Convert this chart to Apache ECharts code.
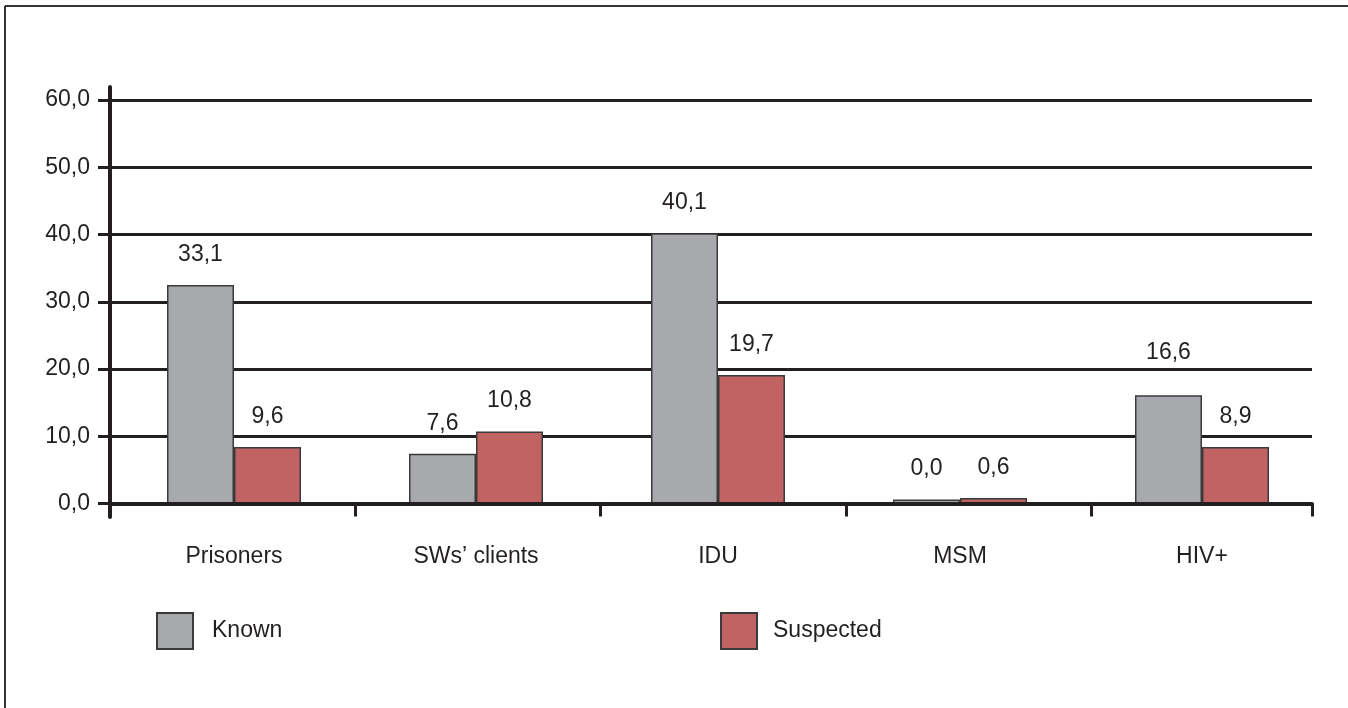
<!DOCTYPE html>
<html>
<head>
<meta charset="utf-8">
<script src="https://cdn.jsdelivr.net/npm/echarts@6/dist/echarts.min.js"></script>
<style>
  html, body { margin: 0; padding: 0; background: #fff; }
  #barChart { width: 1348px; height: 708px; }
</style>
</head>
<body>
<div id="barChart"></div>
<script>
// categories and values
var categories = ["Prisoners", "SWs\u2019 clients", "IDU", "MSM", "HIV+"];
// bar heights as drawn in the picture
var knownValues = [32.5, 7.4, 40.2, 0.6, 16.1];
var suspectedValues = [8.4, 10.7, 19.1, 0.8, 8.4];
// numbers printed above the bars
var knownLabels = [33.1, 7.6, 40.1, 0.0, 16.6];
var suspectedLabels = [9.6, 10.8, 19.7, 0.6, 8.9];
var yTicks = [0, 10, 20, 30, 40, 50, 60];

var ink = "#231f20";
var font = "'Liberation Sans', Arial, Helvetica, sans-serif";
var fs = 23;

function comma(v) {
  return Number(v).toFixed(1).replace(".", ",");
}

function barLabel(labels) {
  return {
    show: true,
    position: "top",
    distance: 19,
    fontSize: fs,
    color: ink,
    fontFamily: font,
    formatter: function (p) {
      return comma(labels[p.dataIndex]);
    },
  };
}

let myChart = echarts.init(document.getElementById("barChart"));

// the HIV+ "16,6" sits higher above its bar in the original
let knownData = knownValues.map(function (v, i) {
  return i === 4 ? { value: v, label: { distance: 31 } } : v;
});

let options = {
  animation: false,
  textStyle: { fontFamily: font },
  graphic: [
    // frame (top and left edges)
    { type: "line", shape: { x1: 5, y1: 6, x2: 1348, y2: 6 }, style: { stroke: "#333", lineWidth: 2 } },
    { type: "line", shape: { x1: 5, y1: 6, x2: 5, y2: 708 }, style: { stroke: "#333", lineWidth: 2 } },
  ],
  legend: [
    {
      data: [{ name: "Known", icon: "rect" }],
      left: 151,
      top: 607,
      itemWidth: 36,
      itemHeight: 36,
      textStyle: { fontSize: fs, color: ink, fontFamily: font, padding: [16, 0, 0, 14] },
    },
    {
      data: [{ name: "Suspected", icon: "rect" }],
      left: 715,
      top: 607,
      itemWidth: 36,
      itemHeight: 36,
      textStyle: { fontSize: fs, color: ink, fontFamily: font, padding: [16, 0, 0, 11] },
    },
  ],
  grid: [
    // axes, grid lines, ticks
    { left: 110, right: 36, top: 100, bottom: 204.5 },
    // bars
    { left: 113, right: 25, top: 100, bottom: 204.5 },
    // long y axis line
    { left: 110, right: 36, top: 87, bottom: 191 },
  ],
  xAxis: [
    {
      gridIndex: 0,
      type: "value",
      min: 0,
      max: 4.9,
      interval: 1,
      z: 10,
      axisLine: { show: true, lineStyle: { color: ink, width: 4 } },
      axisTick: { show: true, length: 13, lineStyle: { color: ink, width: 3 } },
      axisLabel: { show: false },
      splitLine: { show: false },
    },
    {
      gridIndex: 1,
      type: "category",
      data: categories,
      axisLine: { show: false },
      axisTick: { show: false },
      axisLabel: { margin: 42, fontSize: fs, color: ink, fontFamily: font },
    },
    {
      gridIndex: 2,
      type: "value",
      show: false,
    },
  ],
  yAxis: [
    {
      gridIndex: 0,
      type: "value",
      min: yTicks[0],
      max: yTicks[yTicks.length - 1],
      interval: yTicks[1] - yTicks[0],
      axisLine: { show: false },
      axisTick: { show: true, length: 12, lineStyle: { color: ink, width: 3 } },
      axisLabel: {
        margin: 20,
        fontSize: fs,
        color: ink,
        fontFamily: font,
        formatter: function (v) {
          return comma(v);
        },
      },
      splitLine: { show: true, lineStyle: { color: ink, width: 3 } },
    },
    {
      gridIndex: 1,
      type: "value",
      min: yTicks[0],
      max: yTicks[yTicks.length - 1],
      show: false,
    },
    {
      gridIndex: 2,
      type: "value",
      z: 10,
      axisLine: { show: true, onZero: false, lineStyle: { color: ink, width: 4 } },
      axisTick: { show: false },
      axisLabel: { show: false },
      splitLine: { show: false },
    },
  ],
  series: [
    {
      name: "Known",
      type: "bar",
      xAxisIndex: 1,
      yAxisIndex: 1,
      barWidth: 67,
      barGap: "0%",
      data: knownData,
      itemStyle: { color: "#a7a9ac", borderColor: "#3a3a3a", borderWidth: 1.5 },
      label: barLabel(knownLabels),
    },
    {
      name: "Suspected",
      type: "bar",
      xAxisIndex: 1,
      yAxisIndex: 1,
      barWidth: 67,
      barGap: "0%",
      data: suspectedValues,
      itemStyle: { color: "#c16363", borderColor: "#3a3a3a", borderWidth: 1.5 },
      label: barLabel(suspectedLabels),
    },
  ],
};
myChart.setOption(options);
</script>
</body>
</html>
